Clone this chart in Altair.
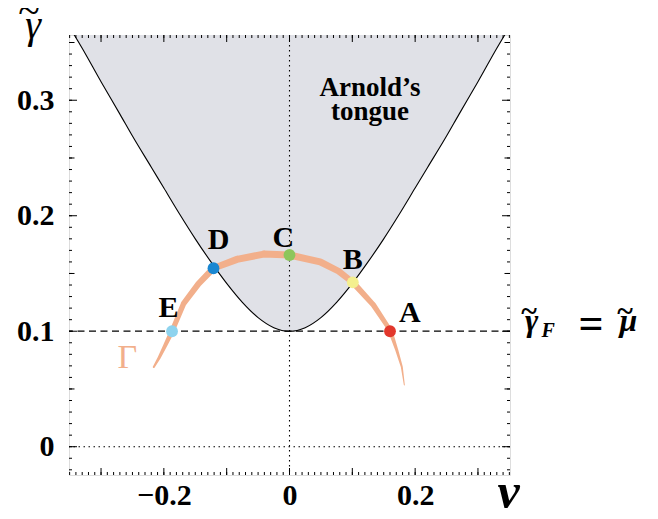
import altair as alt
import pandas as pd
import numpy as np

# ---- data ----
# Arnold tongue boundary (nu, gamma)
tongue_nu = [-0.352, -0.33, -0.30, -0.27, -0.25, -0.22, -0.20, -0.175, -0.15, -0.125, -0.10, -0.075,
             -0.05, -0.025, 0.0, 0.025, 0.05, 0.075, 0.10, 0.125, 0.15, 0.175, 0.20, 0.22, 0.25,
             0.27, 0.30, 0.33, 0.352]
tongue_g = [0.365, 0.345, 0.316, 0.288, 0.269, 0.242, 0.224, 0.2015, 0.180, 0.160, 0.1414, 0.125,
            0.1118, 0.1031, 0.100, 0.1031, 0.1118, 0.125, 0.1414, 0.160, 0.180, 0.2015, 0.224, 0.242, 0.269,
            0.288, 0.316, 0.345, 0.365]

# curve Gamma (nu, gamma, stroke width)
curve_nu = [-0.216, -0.208, -0.1976, -0.187, -0.1685, -0.145, -0.121, -0.0836, -0.041, 0.0,
            0.0488, 0.078, 0.1008, 0.1336, 0.160, 0.1707, 0.1787, 0.1828]
curve_g = [0.069, 0.0765, 0.088, 0.100, 0.124, 0.141, 0.1545, 0.1622, 0.1668, 0.166,
           0.160, 0.152, 0.1423, 0.1227, 0.101, 0.0837, 0.0693, 0.0534]
curve_w = [2.0, 3.0, 4.0, 5.0, 5.5, 6.0, 6.5, 7.0, 7.0, 7.0,
           7.0, 6.5, 6.0, 5.5, 4.5, 3.0, 2.0, 1.0]

# marked points
pt_names = ["A", "B", "C", "D", "E"]
pt_nu = [0.160, 0.1008, 0.0, -0.121, -0.187]
pt_g = [0.100, 0.1423, 0.166, 0.1545, 0.100]
pt_colors = ["#E2372B", "#F4EF8E", "#8DC65B", "#1A87D1", "#8ED3EE"]
lab_nu = [0.1917, 0.1007, -0.010, -0.113, -0.1927]
lab_g = [0.1158, 0.1617, 0.1807, 0.179, 0.120]

gamma_F = 0.1

# axis ticks
x_labels = [-0.2, 0.0, 0.2]
y_labels = [0.0, 0.1, 0.2, 0.3]
x_major = [-0.3, -0.2, -0.1, 0.0, 0.1, 0.2, 0.3]
x_minor = [round(v, 2) for v in np.arange(-0.35, 0.351, 0.01)]
y_major = [0.0, 0.1, 0.2, 0.3]
y_mid = [0.05, 0.15, 0.25, 0.35]
y_minor = [round(v, 2) for v in np.arange(-0.02, 0.356, 0.01)]

W, H = 441, 440
XD = [-0.351, 0.351]
YD = [-0.0245, 0.3565]
SERIF = "Liberation Serif"

xs = alt.Scale(domain=XD, nice=False, zero=False)
ys = alt.Scale(domain=YD, nice=False, zero=False)

label_expr_x = "datum.value == 0 ? '0' : replace(format(datum.value, '.1f'), '-', '\u2013')"
label_expr_y = "datum.value == 0 ? '0' : format(datum.value, '.1f')"

x_axis = alt.Axis(values=x_labels, ticks=False, domain=False, grid=False, labelExpr=label_expr_x,
                  labelFont=SERIF, labelFontWeight="bold", labelFontSize=30, labelPadding=5,
                  labelColor="black", title="\u03bd", titleFont=SERIF, titleFontStyle="italic",
                  titleFontWeight="bold", titleFontSize=50, titleX=439, titleY=32,
                  titleAlign="center", titleBaseline="alphabetic", titleColor="black")
y_axis = alt.Axis(values=y_labels, ticks=False, domain=False, grid=False, labelExpr=label_expr_y,
                  labelFont=SERIF, labelFontWeight="bold", labelFontSize=30, labelPadding=15,
                  labelColor="black", title="")

X = lambda f="nu": alt.X(f"{f}:Q", scale=xs, axis=x_axis)
Y = lambda f="g": alt.Y(f"{f}:Q", scale=ys, axis=y_axis)

tongue_df = pd.DataFrame({"nu": tongue_nu, "g": tongue_g, "top": [YD[1]] * len(tongue_nu)})
curve_df = pd.DataFrame({"nu": curve_nu, "g": curve_g, "w": curve_w, "i": range(len(curve_nu))})
pts_df = pd.DataFrame({"nu": pt_nu, "g": pt_g, "name": pt_names, "c": pt_colors})
labs_df = pd.DataFrame({"nu": lab_nu, "g": lab_g, "name": pt_names})

base_area = alt.Chart(tongue_df).mark_area(color="#E0E1E7", clip=True, interpolate="monotone",
                                           opacity=1).encode(x=X(), y=Y(), y2="top:Q")
base_line = alt.Chart(tongue_df).mark_line(color="black", strokeWidth=1.1, clip=True,
                                           interpolate="monotone").encode(x=X(), y=Y())

vline = alt.Chart(pd.DataFrame({"nu": [0.0]})).mark_rule(color="black", strokeDash=[1.5, 3.5],
                                                        strokeWidth=1.1).encode(x=X())
hzero = alt.Chart(pd.DataFrame({"g": [0.0]})).mark_rule(color="black", strokeDash=[1.5, 3.5],
                                                       strokeWidth=1.1).encode(y=Y())
hF = alt.Chart(pd.DataFrame({"g": [gamma_F]})).mark_rule(color="black", strokeDash=[7, 4.5],
                                                        strokeWidth=1.2).encode(y=Y())

trail = alt.Chart(curve_df).mark_trail(color="#F2AF8B", clip=True).encode(
    x=X(), y=Y(), size=alt.Size("w:Q", scale=None, legend=None), order="i:Q")

dots = alt.Chart(pts_df).mark_circle(size=140, opacity=1).encode(
    x=X(), y=Y(), color=alt.Color("c:N", scale=None))

labels = alt.Chart(labs_df).mark_text(font=SERIF, fontWeight="bold", fontSize=30, color="black",
                                      baseline="middle", align="center").encode(
    x=X(), y=Y(), text="name:N")

arnold = alt.Chart(pd.DataFrame({"nu": [0.128, 0.128], "g": [0.3106, 0.2895],
                                 "t": ["Arnold\u2019s", "tongue"]})).mark_text(
    font=SERIF, fontWeight="bold", fontSize=27, color="black", baseline="middle", align="center").encode(
    x=X(), y=Y(), text="t:N")

gam_lab = alt.Chart(pd.DataFrame({"nu": [-0.258], "g": [0.0768], "t": ["\u0393"]})).mark_text(
    font=SERIF, fontSize=34, color="#F2AF8B", baseline="middle", align="center").encode(
    x=X(), y=Y(), text="t:N")

# free-standing symbols (axis title gamma-tilde, right label gamma_F = mu)
sym_t = ["\u03b3", "~", "\u03b3", "~", "F", "=", "\u03bc", "~"]
sym_x = [-36, -40, 462.7, 460, 472.5, 522, 559.5, 556]
sym_y = [3, -11, 296, 285.5, 302, 302.5, 296, 285.5]
sym_size = [40, 40, 32, 30, 20, 44, 32, 30]
sym_style = ["italic", "normal", "italic", "normal", "italic", "normal", "italic", "normal"]
sym_weight = ["normal", "normal", "bold", "bold", "bold", "bold", "bold", "bold"]
sym_align = ["center", "center", "center", "center", "left", "center", "center", "center"]

sym_layers = []
for t, sx, sy, sz, st, wt, al in zip(sym_t, sym_x, sym_y, sym_size, sym_style, sym_weight, sym_align):
    sym_layers.append(
        alt.Chart(pd.DataFrame({"t": [t]})).mark_text(
            font=SERIF, fontSize=sz, fontStyle=st, fontWeight=wt, color="black",
            align=al, baseline="alphabetic").encode(x=alt.value(sx), y=alt.value(sy), text="t:N"))


def xticks(vals, ln):
    d = pd.DataFrame({"nu": vals})
    b = alt.Chart(d).mark_rule(color="black", strokeWidth=1)
    return [b.encode(x=X(), y=alt.value(H), y2=alt.value(H - ln)),
            b.encode(x=X(), y=alt.value(0), y2=alt.value(ln))]


def yticks(vals, ln):
    d = pd.DataFrame({"g": vals})
    b = alt.Chart(d).mark_rule(color="black", strokeWidth=1)
    return [b.encode(y=Y(), x=alt.value(0), x2=alt.value(ln)),
            b.encode(y=Y(), x=alt.value(W), x2=alt.value(W - ln))]


ticks = xticks(x_minor, 3) + xticks(x_major, 7) + yticks(y_minor, 3) + yticks(y_mid, 5.5) + yticks(y_major, 8)

chart = alt.layer(base_area, base_line, vline, hzero, hF, trail, dots, labels, arnold, gam_lab,
                  *sym_layers, *ticks).properties(
    width=W, height=H,
    padding={"left": 61, "top": 27, "right": 140, "bottom": 36},
    autosize=alt.AutoSizeParams(type="none"),
).configure_view(stroke="black", strokeWidth=1.6).configure(background="white")

chart.save("out.html", embed_options={"renderer": "svg", "actions": False})
